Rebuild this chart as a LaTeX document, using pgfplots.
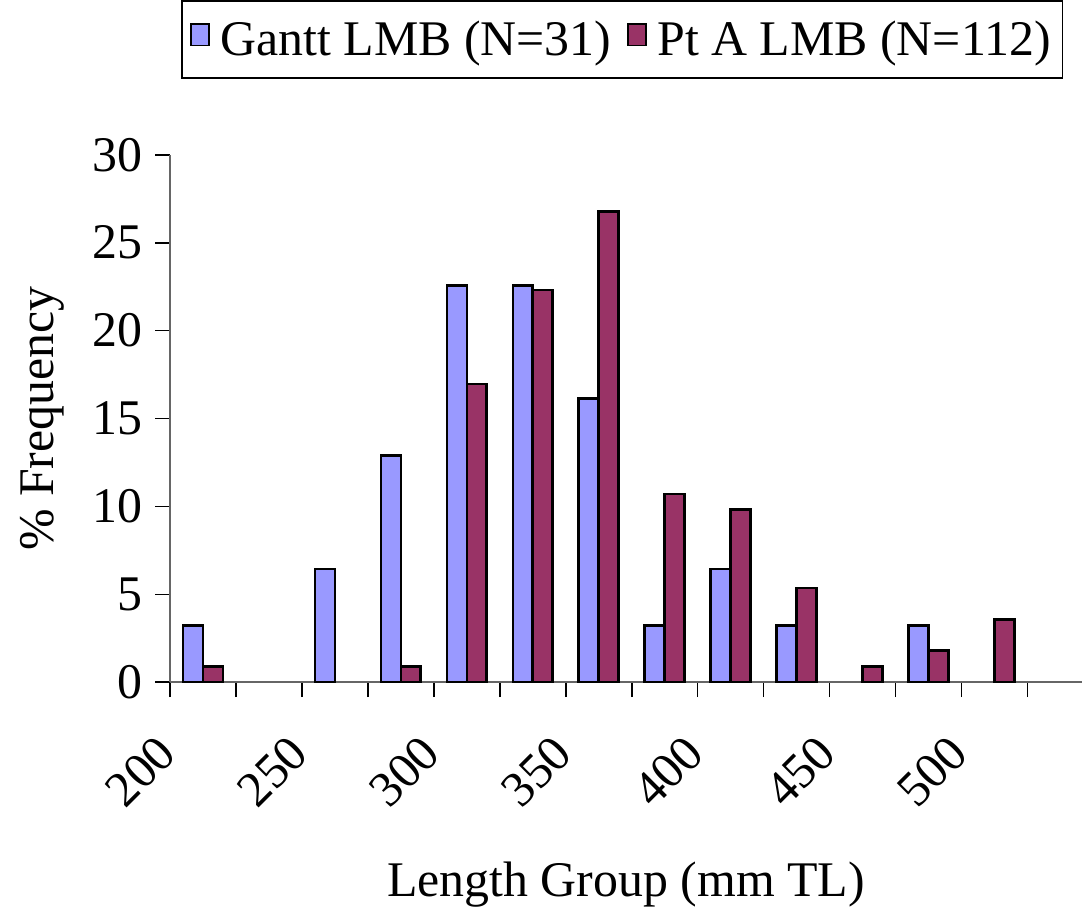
\documentclass[border=0pt]{standalone}
\usepackage{pgfplots}
\pgfplotsset{compat=1.18}
\usepackage{fontspec}
\setmainfont{Liberation Serif}

\definecolor{gantt}{HTML}{9999FF}
\definecolor{pta}{HTML}{993366}

\begin{document}
\begin{tikzpicture}
\begin{axis}[
    scale only axis,
    width=457.5pt, height=264.5pt,
    xmin=-0.5, xmax=13.33,
    ymin=0, ymax=30,
    axis lines*=left,
    axis line style={gray!80!black, line width=0.8pt},
    ybar=0pt, bar width=10pt,
    xtick={0,2,...,12},
    xticklabels={200,250,300,350,400,450,500},
    minor xtick={-0.5,0.5,...,12.5},
    major x tick style={draw=none},
    ytick={0,5,...,30},
    tick align=outside,
    major tick length=7.5pt, minor tick length=7.5pt,
    tick style={black, line width=0.8pt},
    /pgf/number format/assume math mode=true,
    ticklabel style={font=\fontsize{25}{30}\selectfont},
    yticklabel style={xshift=-3pt},
    xticklabel style={xshift=-24pt, yshift=-13pt, rotate=45, anchor=north east},
    ylabel={\% Frequency},
    xlabel={Length Group (mm TL)},
    label style={font=\fontsize{25}{30}\selectfont},
    ylabel style={yshift=7pt},
    xlabel style={yshift=-18pt},
    legend columns=2,
    legend style={at={(0.496,1)}, anchor=south, yshift=38pt,
        font=\fontsize{25}{30}\selectfont, draw=black, line width=0.8pt,
        inner xsep=4pt, inner ysep=8pt,
        /tikz/every even column/.append style={column sep=6pt}},
    legend image code/.code={
        \draw[#1, line width=1pt] (1pt,-3pt) rectangle (10pt,8pt);
        \path (13pt,0pt);},
]
\addplot[fill=gantt, draw=black, line width=1.3pt] coordinates {
    (0,3.23) (2,6.45) (3,12.90) (4,22.58) (5,22.58) (6,16.13)
    (7,3.23) (8,6.45) (9,3.23) (11,3.23)};
\addplot[fill=pta, draw=black, line width=1.3pt] coordinates {
    (0,0.89) (3,0.89) (4,16.96) (5,22.32) (6,26.79) (7,10.71)
    (8,9.82) (9,5.36) (10,0.89) (11,1.79) (12,3.57)};
\legend{Gantt LMB (N=31), Pt A LMB (N=112)}
\end{axis}
\path ([xshift=-7pt]current bounding box.west);
\end{tikzpicture}
\end{document}
